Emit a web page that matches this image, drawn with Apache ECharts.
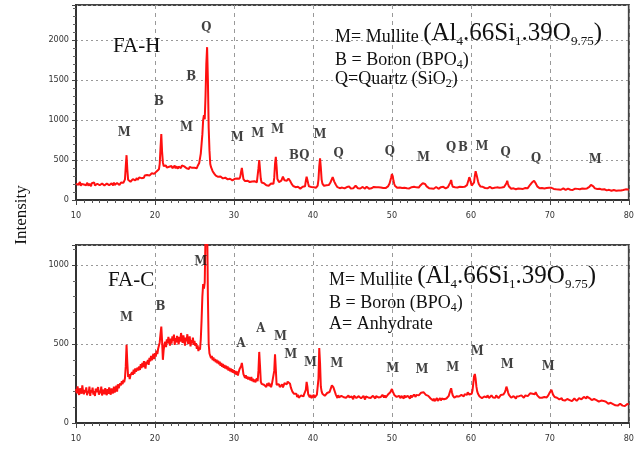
<!DOCTYPE html>
<html><head><meta charset="utf-8">
<script src="https://cdn.jsdelivr.net/npm/echarts@6/dist/echarts.min.js"></script>
<style>html,body{margin:0;padding:0;background:#fff}#c{width:637px;height:449px}</style>
</head><body><div id="c"></div>
<script>
// 2-theta scan: starts at 10 deg, 0.1 deg per point, up to 80 deg
var scanStart = 10, scanStep = 0.1;
var xTicks = [10, 20, 30, 40, 50, 60, 70, 80];
var yTicksH = [0, 500, 1000, 1500, 2000];
var yTicksC = [0, 500, 1000];

// FA-H intensities (counts), one row per degree
var intensityH = [
205,182,214,190,198,226,176,201,188,219,
193,171,208,185,216,199,178,204,190,172,
209,186,197,220,181,195,174,203,188,211,
184,199,176,207,192,215,180,196,171,205,
190,213,185,200,177,208,194,182,217,189,
201,184,212,195,223,188,206,218,199,230,
215,236,258,420,560,380,252,236,247,228,
252,235,261,246,270,244,258,275,250,266,
281,262,290,273,268,297,279,305,286,300,
312,290,318,305,327,309,335,318,341,326,
348,332,357,340,366,384,452,650,825,602,
470,425,438,412,430,405,421,398,416,432,
402,425,397,418,406,430,395,422,410,391,
418,404,426,399,432,415,441,420,408,428,
396,420,405,388,414,399,425,402,391,417,
404,389,418,398,425,410,462,520,580,700,
820,1000,1060,1010,1300,1700,1910,1500,900,620,
450,410,385,360,345,330,318,305,312,296,
290,302,281,295,276,288,270,284,266,279,
262,275,258,270,249,266,255,272,246,260,
252,265,244,258,270,256,248,266,292,350,
400,330,262,248,236,252,230,241,226,238,
225,240,218,232,246,221,235,215,229,220,
232,395,500,380,262,218,205,196,210,188,
195,183,204,190,178,200,186,207,192,214,
203,276,452,540,415,262,238,224,235,218,
242,265,292,270,246,232,225,240,252,268,
255,240,218,202,186,175,168,180,160,172,
152,165,148,160,142,158,150,166,145,162,
172,240,290,268,205,170,156,148,162,151,
145,158,150,166,154,172,180,255,420,520,
405,255,205,188,176,190,172,185,178,194,
186,200,215,240,262,285,262,230,208,190,
172,160,151,165,148,158,142,155,163,150,
145,158,149,162,141,155,168,150,143,157,
152,146,160,170,178,168,155,147,161,149,
144,156,150,163,147,158,141,153,166,149,
155,142,160,151,146,158,149,163,152,145,
158,166,172,160,150,143,156,147,162,151,
145,157,149,162,155,170,182,205,222,278,
325,300,240,200,175,165,158,152,161,148,
155,146,160,149,143,158,152,140,155,147,
150,162,145,156,148,160,142,153,165,149,
146,158,150,163,155,170,182,190,195,210,
225,212,200,185,170,162,155,148,160,152,
145,158,149,141,155,150,162,146,153,140,
156,148,160,143,152,165,149,157,146,158,
150,162,155,180,220,250,200,165,156,148,
160,152,168,157,163,150,166,158,171,162,
160,172,165,178,170,185,200,250,285,260,
215,180,160,190,220,300,360,340,280,235,
200,182,170,160,152,165,148,158,150,162,
155,146,160,151,163,148,157,145,159,150,
152,160,147,158,150,165,153,146,161,155,
150,158,162,170,180,210,240,200,172,155,
148,140,153,137,146,142,150,135,148,140,
143,137,150,141,134,147,139,152,145,150,
142,155,148,160,170,190,200,215,230,238,
240,225,210,195,170,160,152,146,155,148,
150,142,156,145,152,140,150,158,146,153,
148,140,152,135,146,138,150,142,133,147,
140,132,145,137,128,142,135,146,130,139,
126,138,130,142,125,135,128,140,132,126,
137,129,142,133,126,139,131,144,135,140,
130,143,136,148,140,160,150,145,152,158,
165,175,190,200,185,170,155,145,150,140,
138,145,132,140,128,136,130,142,126,134,
125,132,120,130,118,127,122,133,115,126,
118,124,113,122,116,127,112,120,115,125,
119,128,116,124,130,121,133,126,138,130,
132];

// FA-C intensities (counts)
var intensityC = [
215,188,232,196,178,220,205,185,238,199,
182,210,194,225,176,203,189,230,172,208,
193,224,180,201,171,218,195,186,227,179,
205,188,230,174,212,196,183,221,190,176,
214,185,226,198,179,219,202,188,231,194,
210,236,198,245,220,228,252,238,265,246,
272,258,285,360,495,380,292,310,278,302,
295,322,305,338,312,345,326,318,350,332,
358,336,372,348,380,355,392,366,345,388,
375,400,368,412,390,425,398,418,438,405,
442,420,458,436,470,482,510,565,610,520,
400,462,498,515,480,530,505,545,512,490,
535,502,548,520,560,495,538,510,552,526,
498,545,515,570,530,508,555,522,490,540,
518,562,500,532,548,485,525,505,540,495,
520,488,505,470,492,455,478,465,530,650,
800,880,850,890,1200,1400,1300,800,500,440,
430,410,425,398,415,392,405,385,400,378,
395,372,388,362,380,356,374,350,368,345,
362,340,358,332,350,328,345,322,340,318,
335,312,330,305,326,300,322,340,332,360,
380,345,310,298,285,302,280,295,276,290,
285,270,292,265,280,260,275,258,270,282,
265,330,450,360,262,248,238,255,242,250,
240,228,250,236,255,232,248,226,245,252,
238,330,435,340,242,250,232,245,228,240,
230,245,225,238,252,240,258,245,262,270,
270,248,225,212,198,205,185,192,178,186,
165,178,160,172,158,175,165,180,168,185,
175,210,260,230,182,170,162,178,158,170,
165,178,160,172,168,180,175,280,475,380,
230,200,185,178,190,172,184,176,190,182,
188,196,210,220,238,240,225,210,195,180,
170,158,176,162,168,155,172,160,175,163,
158,172,160,168,152,175,162,170,156,168,
165,150,172,160,175,158,168,155,170,162,
170,156,165,152,172,160,148,168,158,175,
162,155,170,158,165,150,172,160,168,155,
170,160,175,162,158,172,165,155,178,168,
162,175,160,170,165,180,172,185,195,205,
215,200,190,178,185,170,165,175,160,172,
165,158,172,160,168,155,175,162,170,158,
172,160,168,155,175,162,170,158,180,172,
165,178,170,182,175,185,180,192,188,195,
195,185,190,178,175,168,172,160,168,155,
148,160,142,155,138,150,145,158,140,152,
146,158,142,155,148,160,150,145,162,155,
158,165,172,190,205,220,195,175,168,160,
165,158,170,162,175,168,172,165,178,170,
175,168,182,172,185,178,195,188,180,175,
170,185,205,250,295,310,280,230,200,185,
175,168,160,172,158,165,152,168,160,170,
162,175,165,158,170,160,175,168,162,172,
168,160,175,165,172,158,170,162,178,168,
172,180,185,195,210,230,215,195,180,175,
168,160,172,158,170,162,165,155,168,160,
162,170,158,168,175,165,172,160,168,175,
165,178,170,182,175,188,180,192,185,195,
190,182,195,185,175,168,172,160,170,165,
160,168,155,165,158,172,162,170,175,185,
195,205,210,195,180,172,165,158,168,160,
155,165,150,160,148,158,145,155,150,142,
148,138,152,142,155,145,140,150,138,148,
142,155,145,150,140,152,145,158,148,155,
150,160,152,165,158,162,155,168,160,165,
158,150,162,145,155,148,152,140,150,145,
140,148,135,145,132,142,138,130,140,135,
128,135,125,132,122,130,120,128,118,126,
120,115,125,112,122,118,110,120,115,122,
112,120,110,118,115,108,118,112,120,115,
118];

// peak identification letters (2-theta, intensity position, phase)
var peakXH = [16.1, 20.5, 24.0, 24.6, 26.5, 30.4, 33.0, 35.5, 37.6, 38.9, 40.9, 43.25, 49.75, 54.0, 57.5, 59.0, 61.4, 64.4, 68.25, 75.75];
var peakYH = [840, 1230, 900, 1540, 2150, 775, 825, 880, 560, 560, 820, 585, 610, 525, 660, 660, 670, 595, 520, 500];
var peakTH = ['M','B','M','B','Q','M','M','M','B','Q','M','Q','Q','M','Q','B','M','Q','Q','M'];

var peakXC = [16.4, 20.7, 25.8, 30.9, 33.4, 35.9, 37.2, 39.7, 43.0, 50.1, 53.8, 57.7, 60.8, 64.6, 69.8];
var peakYC = [670, 735, 1020, 500, 600, 550, 430, 385, 378, 345, 340, 348, 450, 368, 355];
var peakTC = ['M','B','M','A','A','M','M','M','M','M','M','M','M','M','M'];

function toPairs(arr){ return arr.map(function(v,i){ return [+(scanStart + i*scanStep).toFixed(1), v]; }); }
function toLabels(xs, ys, ts){ return xs.map(function(x,i){ return {value:[x, ys[i]], name: ts[i]}; }); }

var axisFont = 'Liberation Sans Narrow, DejaVu Sans Condensed, sans-serif';
var serif = 'Liberation Serif, DejaVu Serif, serif';
var condSerif = 'DejaVu Serif Condensed, Liberation Serif, serif';

function xAxis(gi){
  return {type:'value', gridIndex: gi, min: 10, max: 80, interval: 10,
    axisLine:{show:true, lineStyle:{color:'#333', width:2}},
    axisTick:{show:true, length:5, lineStyle:{color:'#444'}},
    minorTick:{show:true, splitNumber:10, length:3, lineStyle:{color:'#555'}},
    axisLabel:{color:'#333', fontSize:9, fontFamily: axisFont, margin:11,
      formatter: function(v){ return xTicks.indexOf(v) >= 0 ? String(v) : ''; }},
    splitLine:{show:true, lineStyle:{color:'#999', type:[4,4], width:1}},
    minorSplitLine:{show:false}};
}
function yAxis(gi, max, ticks){
  return {type:'value', gridIndex: gi, min:0, max:max, interval:500,
    axisLine:{show:true, lineStyle:{color:'#333', width:2}},
    axisTick:{show:true, length:4, lineStyle:{color:'#444'}},
    minorTick:{show:true, splitNumber:5, length:3, lineStyle:{color:'#666'}},
    axisLabel:{color:'#333', fontSize:9, fontFamily: axisFont, margin:7, showMaxLabel:false,
      formatter: function(v){ return ticks.indexOf(v) >= 0 ? String(v) : ''; }},
    splitLine:{show:true, lineStyle:{color:'#999', type:[2,3], width:1}}};
}

function tok(size, pad){
  return {fontFamily:serif, fontSize:size, fontWeight:'normal', color:'#111', verticalAlign:'bottom', lineHeight:size, padding:[0,0,pad,0]};
}
var rich1 = { n: tok(18,4), b: tok(25,4), s: tok(13,2) };
var rich2 = { n: tok(18,4), s: tok(12,2) };
var line1 = '{n|M= Mullite }{b|(Al}{s|4}{b|.66Si}{s|1}{b|.39O}{s|9.75}{b|)}';

function lbl(txt, left, top, rich){
  return {text: txt, left: left, top: top, padding:0, textStyle:{fontWeight:'normal', rich: rich}};
}

var chart = echarts.init(document.getElementById('c'), null, {renderer:'canvas'});
chart.setOption({
  animation:false,
  backgroundColor:'#fff',
  grid:[
    {left:76, top:5, width:559, height:195, show:true, borderColor:'#444', borderWidth:2, backgroundColor:'transparent'},
    {left:76, top:245, width:559, height:178, show:true, borderColor:'#444', borderWidth:2, backgroundColor:'transparent'}
  ],
  xAxis:[xAxis(0), xAxis(1)],
  yAxis:[yAxis(0, 2437, yTicksH), yAxis(1, 1127, yTicksC)],
  title:[
    {text:'FA-H', left:113, top:36, padding:0, textStyle:{fontFamily:serif, fontSize:21, fontWeight:'normal', color:'#111'}},
    {text:'FA-C', left:108, top:270, padding:0, textStyle:{fontFamily:serif, fontSize:21, fontWeight:'normal', color:'#111'}},
    lbl(line1, 335, 25, rich1),
    lbl('{n|B = Boron (BPO}{s|4}{n|)}', 335, 55, rich2),
    lbl('{n|Q=Quartz (SiO}{s|2}{n|)}', 335, 74, rich2),
    lbl(line1, 329, 268, rich1),
    lbl('{n|B = Boron (BPO}{s|4}{n|)}', 329, 298, rich2),
    lbl('{n|A= Anhydrate}', 329, 319, rich2)
  ],
  graphic:[
    {type:'rect', z:-1, shape:{x:313, y:7, width:321, height:92}, style:{fill:'#fff'}},
    {type:'rect', z:-1, shape:{x:318, y:262, width:306, height:80}, style:{fill:'#fff'}},
    {type:'text', x:22, y:215, rotation:Math.PI/2, style:{text:'Intensity', fontFamily:serif, fontSize:17, fill:'#111', align:'center', verticalAlign:'middle'}}
  ],
  series:[
    {type:'line', xAxisIndex:0, yAxisIndex:0, data: toPairs(intensityH), showSymbol:false, symbol:'none',
      lineStyle:{color:'#ff1010', width:2}, z:3, clip:true},
    {type:'line', xAxisIndex:1, yAxisIndex:1, data: toPairs(intensityC), showSymbol:false, symbol:'none',
      lineStyle:{color:'#ff1010', width:2}, z:3, clip:true},
    {type:'scatter', xAxisIndex:0, yAxisIndex:0, data: toLabels(peakXH, peakYH, peakTH), symbolSize:0, z:5,
      label:{show:true, position:'inside', formatter:function(p){return p.name;}, fontFamily:condSerif, fontWeight:'bold', fontSize:13, color:'#111'}},
    {type:'scatter', xAxisIndex:1, yAxisIndex:1, data: toLabels(peakXC, peakYC, peakTC), symbolSize:0, z:5,
      label:{show:true, position:'inside', formatter:function(p){return p.name;}, fontFamily:condSerif, fontWeight:'bold', fontSize:13, color:'#111'}}
  ]
});
</script></body></html>
